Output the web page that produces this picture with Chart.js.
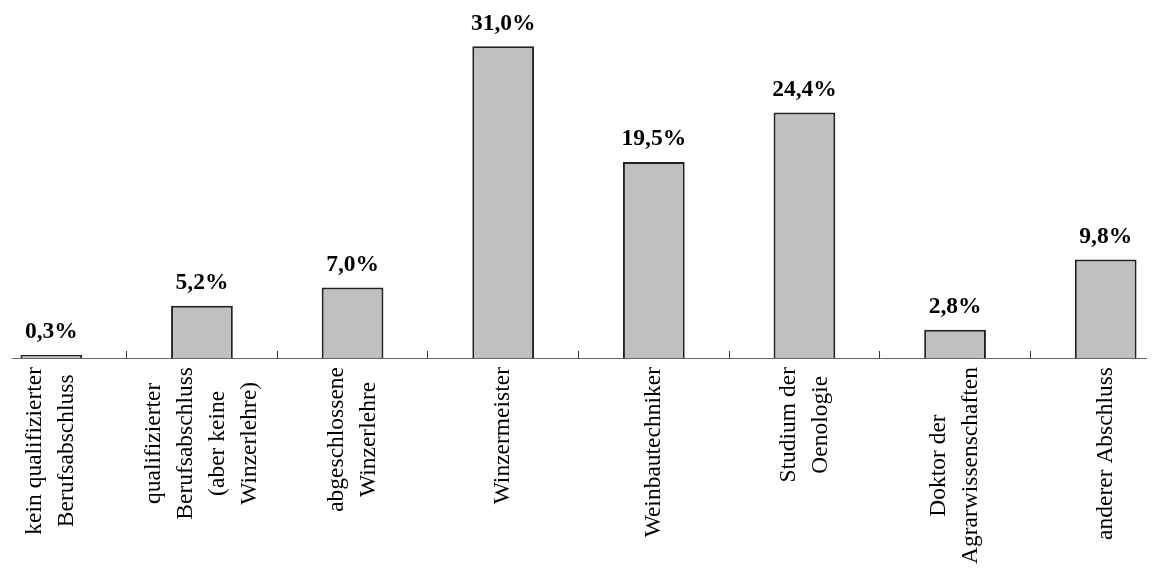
<!DOCTYPE html>
<html lang="de">
<head>
<meta charset="utf-8">
<title>Berufsabschluss</title>
<script src="https://cdn.jsdelivr.net/npm/chart.js@4/dist/chart.umd.min.js"></script>
<style>
  html, body { margin: 0; padding: 0; background: #ffffff; }
  #frame { position: absolute; left: 12px; top: 0; width: 1135px; height: 568px; overflow: hidden; }
  #plot { position: absolute; left: -36px; top: 0; width: 1205px; height: 568px; }
</style>
</head>
<body>
<div id="frame"><div id="plot"><canvas id="chart"></canvas></div></div>
<script>
// Höchster Berufsabschluss (Anteil in %)
const categories = [
  ['kein qualifizierter', 'Berufsabschluss'],
  ['qualifizierter', 'Berufsabschluss', '(aber keine', 'Winzerlehre)'],
  ['abgeschlossene', 'Winzerlehre'],
  ['Winzermeister'],
  ['Weinbautechniker'],
  ['Studium der', 'Oenologie'],
  ['Doktor der', 'Agrarwissenschaften'],
  ['anderer Abschluss']
];
const shares = [0.3, 5.2, 7.0, 31.0, 19.5, 24.4, 2.8, 9.8];

const SERIF = '"Liberation Serif", "Times New Roman", serif';
const FONT_SIZE = 23.5;
const LINE_HEIGHT = 32;

// Value labels above each bar, German decimal comma
const valueLabels = {
  id: 'valueLabels',
  afterDatasetsDraw(chart) {
    const { ctx } = chart;
    const meta = chart.getDatasetMeta(0);
    ctx.save();
    ctx.font = 'bold ' + FONT_SIZE + 'px ' + SERIF;
    ctx.fillStyle = '#000000';
    ctx.textAlign = 'center';
    ctx.textBaseline = 'alphabetic';
    meta.data.forEach((bar, i) => {
      const text = shares[i].toFixed(1).replace('.', ',') + '%';
      ctx.fillText(text, bar.x, bar.y - 16.5);
    });
    ctx.restore();
  }
};

// Vertical category labels, lines centred within each block
const categoryLabels = {
  id: 'categoryLabels',
  afterDraw(chart) {
    const { ctx } = chart;
    const xs = chart.scales.x;
    const axisY = chart.chartArea.bottom;
    ctx.save();
    ctx.font = FONT_SIZE + 'px ' + SERIF;
    ctx.fillStyle = '#000000';
    ctx.textAlign = 'center';
    ctx.textBaseline = 'middle';
    categories.forEach((lines, i) => {
      const x = xs.getPixelForValue(i);
      const maxW = Math.max(...lines.map(l => ctx.measureText(l).width));
      ctx.save();
      ctx.translate(x, axisY);
      ctx.rotate(-Math.PI / 2);
      lines.forEach((line, j) => {
        const off = (j - (lines.length - 1) / 2) * LINE_HEIGHT;
        ctx.fillText(line, -(9 + maxW / 2), off);
      });
      ctx.restore();
    });
    ctx.restore();
  }
};

new Chart(document.getElementById('chart'), {
  type: 'bar',
  data: {
    labels: categories,
    datasets: [{
      data: shares,
      backgroundColor: '#c0c0c0',
      borderColor: '#222222',
      borderWidth: 2,
      barPercentage: 0.41,
      categoryPercentage: 1.0
    }]
  },
  options: {
    responsive: true,
    maintainAspectRatio: false,
    animation: false,
    layout: { padding: { top: 6, bottom: 210, left: 0, right: 0 } },
    plugins: {
      legend: { display: false },
      tooltip: { enabled: false },
      title: { display: false }
    },
    scales: {
      x: {
        afterFit(scale) { scale.height = 0; },
        ticks: { display: false },
        grid: {
          display: true,
          offset: true,
          drawOnChartArea: false,
          drawTicks: true,
          tickLength: -7,
          color: '#333333',
          lineWidth: 1
        },
        border: { display: true, color: '#666666', width: 1 }
      },
      y: {
        display: false,
        min: 0,
        max: 35
      }
    }
  },
  plugins: [valueLabels, categoryLabels]
});
</script>
</body>
</html>
